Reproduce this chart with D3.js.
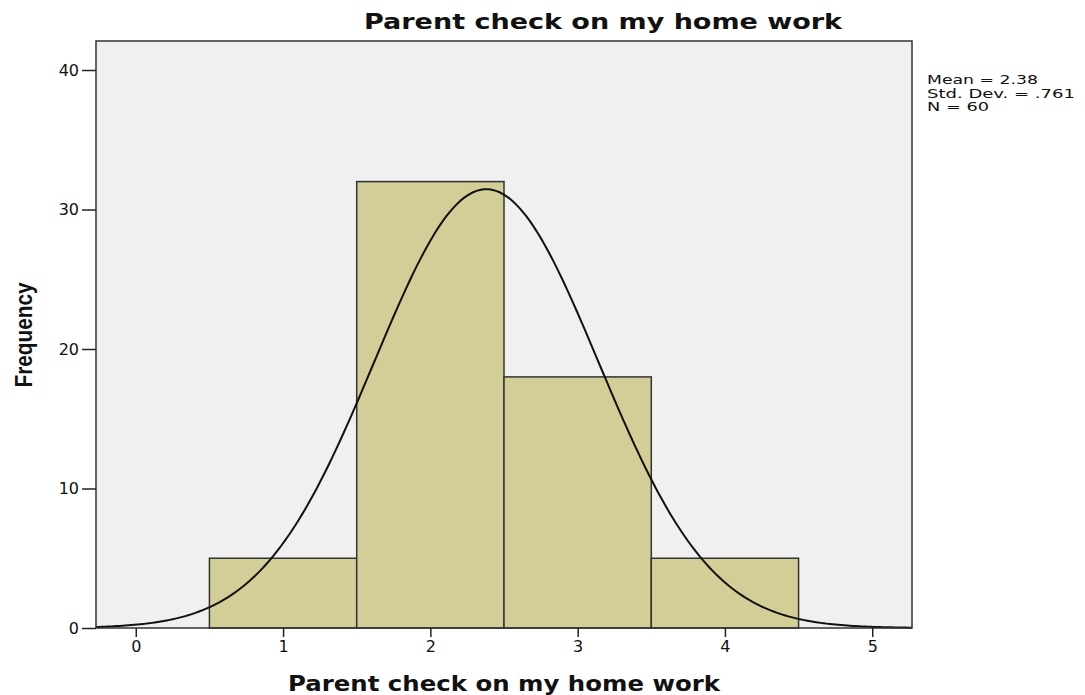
<!DOCTYPE html>
<html>
<head>
<meta charset="utf-8">
<script src="https://cdn.jsdelivr.net/npm/d3@7"></script>
<style>
body { margin: 0; background: #fff; }
text { font-family: "DejaVu Sans", Arial, sans-serif; fill: #111; }
</style>
</head>
<body>
<svg id="chart" width="1085" height="695"></svg>
<script>
// histogram bins and counts
var binCenters = [1, 2, 3, 4];
var counts = [5, 32, 18, 5];
var xTicks = [0, 1, 2, 3, 4, 5];
var yTicks = [0, 10, 20, 30, 40];
var stats = ["Mean = 2.38", "Std. Dev. = .761", "N = 60"];
var mean = 2.38, sd = 0.761, n = 60;

var margin = {top: 41, right: 173, bottom: 67, left: 96},
    width = 1085 - margin.left - margin.right,
    height = 695 - margin.top - margin.bottom;

var svg = d3.select("#chart");
var g = svg.append("g")
    .attr("transform", "translate(" + margin.left + "," + margin.top + ")");

var x = d3.scaleLinear().domain([-0.27, 5.27]).range([0, width]);
var y = d3.scaleLinear().domain([0, 40]).range([height, height - 40 * 13.95]);

// plot background
g.append("rect")
    .attr("width", width)
    .attr("height", height)
    .attr("fill", "#f0f0f0");

// bars
g.selectAll(".bar")
    .data(binCenters)
    .enter().append("rect")
    .attr("class", "bar")
    .attr("x", function(d) { return x(d - 0.5); })
    .attr("width", function(d) { return x(d + 0.5) - x(d - 0.5); })
    .attr("y", function(d, i) { return y(counts[i]); })
    .attr("height", function(d, i) { return height - y(counts[i]); })
    .attr("fill", "#d3ce98")
    .attr("stroke", "#333")
    .attr("stroke-width", 1.5);

// normal curve
var pts = d3.range(-0.27, 5.2701, 0.02).map(function(v) {
    var z = (v - mean) / sd;
    return [v, n * Math.exp(-0.5 * z * z) / (sd * Math.sqrt(2 * Math.PI))];
});
g.append("path")
    .datum(pts)
    .attr("fill", "none")
    .attr("stroke", "#111")
    .attr("stroke-width", 2)
    .attr("d", d3.line().x(function(d) { return x(d[0]); }).y(function(d) { return y(d[1]); }));

// frame
g.append("rect")
    .attr("width", width)
    .attr("height", height)
    .attr("fill", "none")
    .attr("stroke", "#333")
    .attr("stroke-width", 1.5);

// axes
var xAxis = g.append("g")
    .attr("transform", "translate(0," + height + ")")
    .call(d3.axisBottom(x).tickValues(xTicks).tickFormat(d3.format("d")).tickSize(9).tickPadding(4));
var yAxis = g.append("g")
    .call(d3.axisLeft(y).tickValues(yTicks).tickFormat(d3.format("d")).tickSize(14).tickPadding(3));
[xAxis, yAxis].forEach(function(a) {
    a.select(".domain").remove();
    a.selectAll("line").attr("stroke", "#222").attr("stroke-width", 1.5);
    a.selectAll("text").style("font-size", "16px").style("font-family", "DejaVu Sans, Arial, sans-serif").attr("fill", "#222");
});

// title
svg.append("text")
    .attr("x", 603)
    .attr("y", 29)
    .attr("text-anchor", "middle")
    .attr("textLength", 478)
    .attr("lengthAdjust", "spacingAndGlyphs")
    .style("font-size", "21px")
    .style("font-weight", "bold")
    .text("Parent check on my home work");

// x label
svg.append("text")
    .attr("x", 504)
    .attr("y", 691)
    .attr("text-anchor", "middle")
    .attr("textLength", 432)
    .attr("lengthAdjust", "spacingAndGlyphs")
    .style("font-size", "21px")
    .style("font-weight", "bold")
    .text("Parent check on my home work");

// y label
svg.append("text")
    .attr("transform", "translate(32,335) rotate(-90)")
    .attr("text-anchor", "middle")
    .attr("textLength", 105)
    .attr("lengthAdjust", "spacingAndGlyphs")
    .style("font-size", "24px")
    .style("font-weight", "bold")
    .style("font-family", "'Liberation Sans Narrow', 'Arial Narrow', sans-serif")
    .text("Frequency");

// stats
svg.selectAll(".stat")
    .data(stats)
    .enter().append("text")
    .attr("class", "stat")
    .attr("x", 927)
    .attr("y", function(d, i) { return 84 + i * 13.5; })
    .attr("textLength", function(d, i) { return [111, 148, 62][i]; })
    .attr("lengthAdjust", "spacingAndGlyphs")
    .style("font-size", "11.5px")
    .text(function(d) { return d; });
</script>
</body>
</html>
